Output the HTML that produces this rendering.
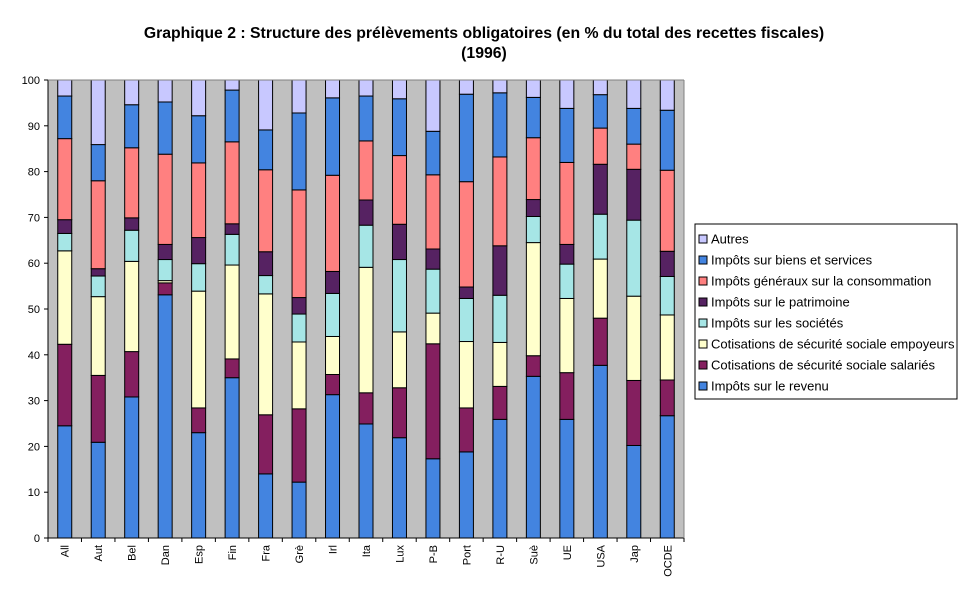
<!DOCTYPE html>
<html><head><meta charset="utf-8"><style>
body{margin:0;background:#fff;font-family:"Liberation Sans",sans-serif}
svg text{font-family:"Liberation Sans",sans-serif}
</style></head><body>
<svg id="c" width="969" height="603">
<text x="484" y="38" text-anchor="middle" font-size="15.8" font-weight="bold">Graphique 2 : Structure des prélèvements obligatoires (en % du total des recettes fiscales)</text>
<text x="484" y="58" text-anchor="middle" font-size="15.8" font-weight="bold">(1996)</text>
<rect x="48" y="80" width="636" height="458" fill="#c0c0c0"/>
<g id="bars"></g><g id="axes"></g>
<rect x="695" y="224" width="262" height="175" fill="#fff" stroke="#000"/>
<g id="legend"></g>
</svg>
<script>
const categories=["All","Aut","Bel","Dan","Esp","Fin","Fra","Grè","Irl","Ita","Lux","P-B","Port","R-U","Suè","UE","USA","Jap","OCDE"];
const seriesNames=["Impôts sur le revenu","Cotisations de sécurité sociale salariés","Cotisations de sécurité sociale empoyeurs","Impôts sur les sociétés","Impôts sur le patrimoine","Impôts généraux sur la consommation","Impôts sur biens et services","Autres"];
const revenu=[24.5,20.9,30.8,53.1,23,35,14,12.2,31.3,24.9,21.9,17.3,18.8,25.9,35.3,25.9,37.7,20.2,26.7];
const salaries=[17.8,14.6,9.9,2.6,5.4,4.1,12.9,16,4.4,6.8,10.9,25.1,9.6,7.2,4.5,10.2,10.3,14.2,7.8];
const employeurs=[20.4,17.2,19.7,0.5,25.5,20.5,26.4,14.6,8.3,27.4,12.2,6.7,14.5,9.6,24.7,16.2,12.9,18.4,14.2];
const societes=[3.8,4.5,6.8,4.6,6.0,6.7,4.0,6.1,9.4,9.2,15.8,9.6,9.4,10.3,5.7,7.5,9.8,16.6,8.4];
const patrimoine=[3.0,1.6,2.7,3.3,5.7,2.3,5.2,3.6,4.8,5.5,7.7,4.4,2.5,10.8,3.7,4.3,10.9,11.1,5.5];
const consommation=[17.7,19.2,15.3,19.7,16.3,17.9,17.9,23.5,21,12.9,15,16.2,23,19.4,13.5,17.9,7.9,5.5,17.7];
const biens=[9.3,7.9,9.4,11.4,10.3,11.3,8.7,16.8,16.9,9.8,12.4,9.5,19.1,14,8.8,11.8,7.3,7.8,13.1];
const autres=[3.5,14.1,5.4,4.8,7.8,2.2,10.9,7.2,3.9,3.5,4.1,11.2,3.1,2.8,3.8,6.2,3.2,6.2,6.6];
const yTicks=[0,10,20,30,40,50,60,70,80,90,100];
const series=[revenu,salaries,employeurs,societes,patrimoine,consommation,biens,autres];
const colors=["#4384e0","#841f5f","#ffffcc","#a6e6e6","#562262","#ff8080","#4384e0","#c8c8ff"];
const keys=["revenu","salaries","employeurs","societes","patrimoine","consommation","biens","autres"];
const NS="http://www.w3.org/2000/svg";
const X0=48,X1=684,Y0=538,Y1=80;
const band=(X1-X0)/categories.length;
const y=v=>Y0-(v/100)*(Y0-Y1);
const xc=i=>X0+band*(i+0.5);
function mk(t,a,p){const e=document.createElementNS(NS,t);for(const k in a)e.setAttribute(k,a[k]);p.appendChild(e);return e;}
const gb=document.getElementById('bars'),ga=document.getElementById('axes'),gl=document.getElementById('legend');
categories.forEach((c,i)=>{let cum=0;
 series.forEach((s,j)=>{const v=s[i];
  const r=mk('rect',{x:xc(i)-7,y:y(cum+v),width:14,height:y(cum)-y(cum+v),fill:colors[j],stroke:'#000','stroke-width':1},gb);
  
  
  cum+=v;});
 const t=mk('text',{transform:`translate(${xc(i)+4},545) rotate(-90)`,'text-anchor':'end','font-size':11},ga);
 t.textContent=c;
 
 
 mk('line',{x1:X0+band*i,x2:X0+band*i,y1:Y0,y2:Y0+4,stroke:'#000'},ga);
});
mk('line',{x1:X1,x2:X1,y1:Y0,y2:Y0+4,stroke:'#000'},ga);
mk('line',{x1:X0,x2:X0,y1:Y1,y2:Y0,stroke:'#000'},ga);
mk('line',{x1:X0,x2:X1,y1:Y0,y2:Y0,stroke:'#000'},ga);
mk('line',{x1:X0,x2:X1,y1:Y1,y2:Y1,stroke:'#808080'},ga);
mk('line',{x1:X1,x2:X1,y1:Y1,y2:Y0,stroke:'#808080'},ga);
yTicks.forEach(v=>{mk('line',{x1:X0-4,x2:X0,y1:y(v),y2:y(v),stroke:'#000'},ga);
 const t=mk('text',{x:X0-8,y:y(v)+4,'text-anchor':'end','font-size':11},ga);
 t.textContent=v;
 
 });
for(let k=0;k<8;k++){const j=7-k;const yy=239+k*21;
 const g=mk('g',{},gl);
 
 
 mk('rect',{x:699,y:yy-4,width:8,height:8,fill:colors[j],stroke:'#000'},g);
 const t=mk('text',{x:711,y:yy+4.5,'font-size':13},g);t.textContent=seriesNames[j];}
</script>
</body></html>
